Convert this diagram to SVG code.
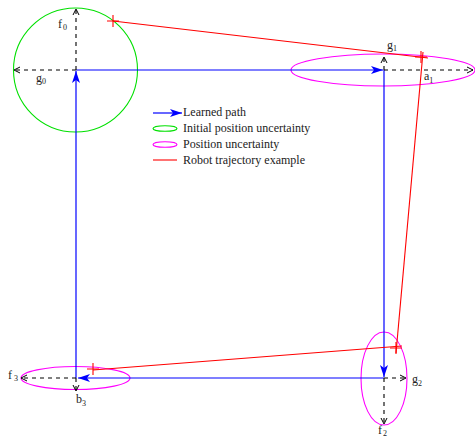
<svg xmlns="http://www.w3.org/2000/svg" width="475" height="439" viewBox="0 0 475 439">
<style>
.lbl{font-family:"Liberation Serif","Times New Roman",serif;font-size:12px;fill:#222}
.sub{font-size:8px}
.blue{stroke:#0000ff;stroke-width:1.2;fill:none;marker-end:url(#ab)}
.dash{stroke:#000;stroke-width:1.1;fill:none;stroke-dasharray:4 4;marker-end:url(#ao)}
.red{stroke:#ff0000;stroke-width:1.1;fill:none}
.mag{stroke:#ff00ff;stroke-width:1.1;fill:none}
.grn{stroke:#00e000;stroke-width:1.1;fill:none}
</style>
<defs>
<marker id="ab" viewBox="-13 -5 14 10" refX="0" refY="0" markerWidth="14" markerHeight="10" markerUnits="userSpaceOnUse" orient="auto">
<path d="M0,0 L-12,-4 L-9,0 L-12,4 Z" fill="#0000ff"/>
</marker>
<marker id="ao" viewBox="-8 -5 9 10" refX="0" refY="0" markerWidth="9" markerHeight="10" markerUnits="userSpaceOnUse" orient="auto">
<path d="M-6,-3 L0,0 L-6,3" fill="none" stroke="#000" stroke-width="1" stroke-dasharray="none"/>
</marker>
</defs>
<g id="uncertainty0"><circle class="grn" cx="75.5" cy="70" r="62"/></g>
<g id="uncertainty1"><ellipse class="mag" cx="383" cy="70" rx="92" ry="16"/></g>
<g id="uncertainty2"><ellipse class="mag" cx="384" cy="378.5" rx="23" ry="46.5"/></g>
<g id="uncertainty3"><ellipse class="mag" cx="75.5" cy="378" rx="54.5" ry="11.5"/></g>
<g id="connectors">
<path class="blue" d="M76,70 L383,70"/>
<path class="blue" d="M384,70 L384,377"/>
<path class="blue" d="M384,378 L78,378"/>
<path class="blue" d="M76,378 L76,71"/>
<path class="dash" d="M76,70 L76,9"/>
<path class="dash" d="M76,70 L14,70"/>
<path class="dash" d="M384,70 L384,57"/>
<path class="dash" d="M384,70 L473,70"/>
<path class="dash" d="M384,378 L406,378"/>
<path class="dash" d="M384,378 L384,424"/>
<path class="dash" d="M76,378 L21,378"/>
<path class="dash" d="M76,378 L76,391"/>
</g>
<g id="trajectory">
<path class="red" d="M113,21 L428,58"/>
<path class="red" d="M423,52 L396,353"/>
<path class="red" d="M402,346 L93,370"/>
<path class="red" d="M107,21 H119 M113,15 V27 M415,57 H427 M421,51 V63 M390,348 H402 M396,342 V354 M87,369 H99 M93,363 V375"/>
</g>
<g id="labels">
<text class="lbl" x="58" y="28">f<tspan class="sub" dx="1" dy="2">0</tspan></text>
<text class="lbl" x="36" y="82">g<tspan class="sub" dy="2">0</tspan></text>
<text class="lbl" x="387" y="49">g<tspan class="sub" dy="2">1</tspan></text>
<text class="lbl" x="424" y="80">a<tspan class="sub" dy="3">1</tspan></text>
<text class="lbl" x="412" y="383">g<tspan class="sub" dy="3">2</tspan></text>
<text class="lbl" x="378" y="434">f<tspan class="sub" dx="1" dy="2">2</tspan></text>
<text class="lbl" x="8" y="379">f<tspan class="sub" dx="2" dy="2">3</tspan></text>
<text class="lbl" x="76" y="403">b<tspan class="sub" dy="3">3</tspan></text>
</g>
<g id="legend">
<path class="blue" d="M153,113 L182,113"/>
<ellipse class="grn" cx="165" cy="128.5" rx="12" ry="2.8"/>
<ellipse class="mag" cx="165" cy="144.5" rx="12" ry="2.8"/>
<path class="red" d="M153,160 L177,160"/>
<text class="lbl" x="183" y="116">Learned path</text>
<text class="lbl" x="183" y="132">Initial position uncertainty</text>
<text class="lbl" x="183" y="148">Position uncertainty</text>
<text class="lbl" x="183" y="164">Robot trajectory example</text>
</g>
</svg>
